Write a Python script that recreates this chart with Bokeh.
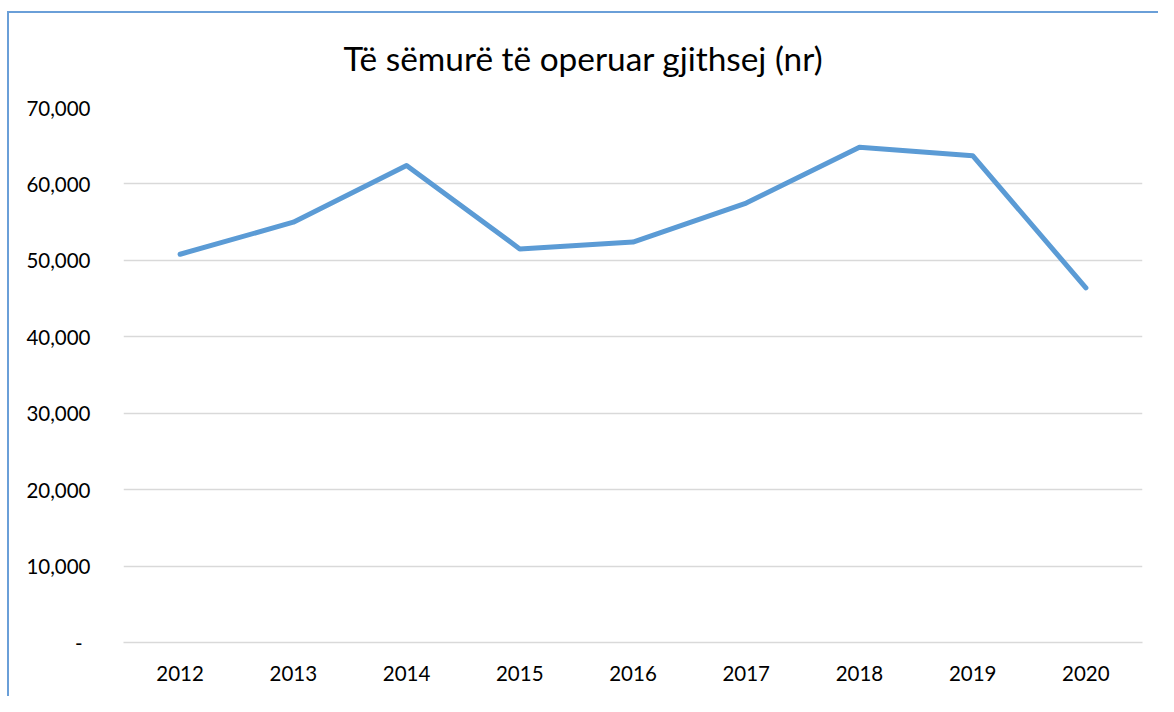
from bokeh.plotting import figure
from bokeh.models import NumeralTickFormatter, FixedTicker, Range1d, ColumnDataSource
from bokeh.embed import file_html
from bokeh.resources import INLINE

years = ["2012", "2013", "2014", "2015", "2016", "2017", "2018", "2019", "2020"]
patients = [50800, 55000, 62400, 51500, 52400, 57500, 64800, 63700, 46400]
y_ticks = [0, 10000, 20000, 30000, 40000, 50000, 60000, 70000]
title_text = "Të sëmurë të operuar gjithsej (nr)"

FONT = "Lato"
BORDER = "#6a9fd8"

src = ColumnDataSource(data=dict(year=years, value=patients))

p = figure(x_range=years, y_range=Range1d(0, 70000), width=1158, height=696,
           output_backend="svg", toolbar_location=None, title=title_text,
           min_border_left=123, min_border_right=16, min_border_top=107, min_border_bottom=54)

p.line(x="year", y="value", source=src, line_color="#5b9bd5", line_width=5,
       line_join="round", line_cap="round")

p.title.align = "left"
p.title.offset = 220
p.title.text_font = FONT
p.title.text_font_size = "33.4px"
p.title.text_font_style = "normal"
p.title.text_color = "#000000"
p.title.standoff = 59

p.outline_line_color = None
p.background_fill_color = "white"
p.border_fill_color = None

p.xgrid.grid_line_color = None
p.ygrid.grid_line_color = "#d9d9d9"
p.ygrid.grid_line_width = 1.5

p.yaxis.ticker = FixedTicker(ticks=y_ticks)
p.yaxis.formatter = NumeralTickFormatter(format="0,0")
p.yaxis.major_label_overrides = {0: "-\u00a0\u2009"}
p.yaxis.axis_line_color = None
p.yaxis.major_tick_line_color = None
p.yaxis.minor_tick_line_color = None
p.yaxis.major_label_standoff = 27
p.yaxis.major_label_text_font = FONT
p.yaxis.major_label_text_font_size = "20.5px"
p.yaxis.major_label_text_color = "#000000"

p.xaxis.axis_line_color = "#d9d9d9"
p.xaxis.axis_line_width = 1.5
p.xaxis.major_tick_line_color = None
p.xaxis.minor_tick_line_color = None
p.xaxis.major_label_standoff = 17
p.xaxis.major_label_text_font = FONT
p.xaxis.major_label_text_font_size = "20.5px"
p.xaxis.major_label_text_color = "#000000"

p.styles = {
    "background-color": "white",
    "background-image": f"linear-gradient({BORDER},{BORDER}), linear-gradient({BORDER},{BORDER})",
    "background-size": "2px 100%, 100% 2px",
    "background-position": "7px 11px, 7px 11px",
    "background-repeat": "no-repeat",
}

open("out.html", "w").write(file_html(p, INLINE))
